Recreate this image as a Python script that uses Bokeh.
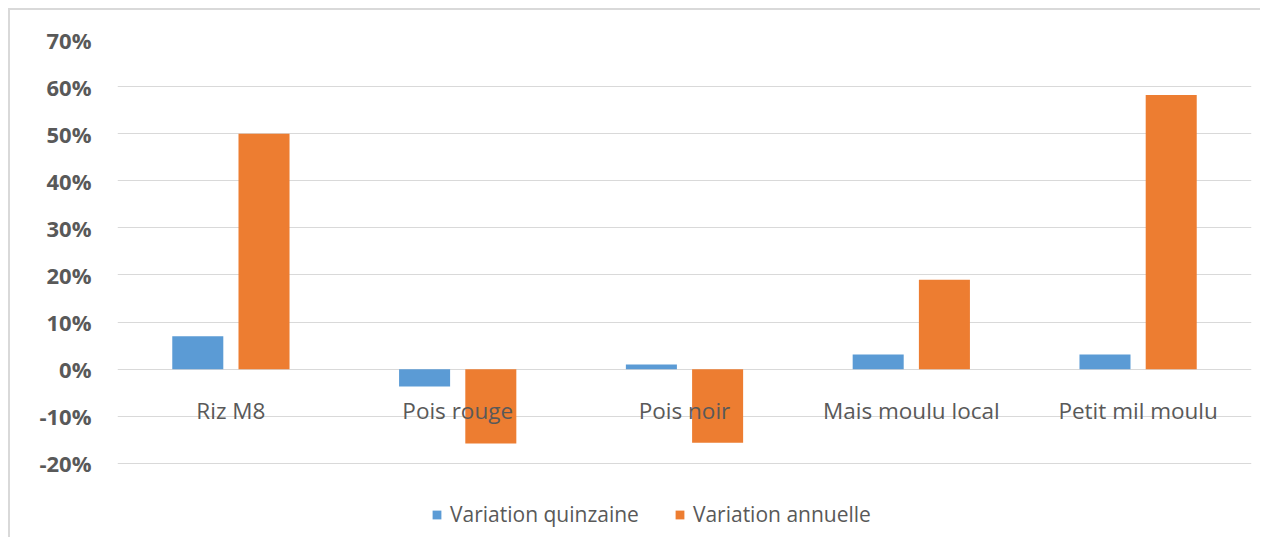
from bokeh.plotting import figure
from bokeh.models import FactorRange, Range1d, FixedTicker, NumeralTickFormatter, Legend, LegendItem, ColumnDataSource
from bokeh.transform import dodge
from bokeh.core.properties import value
from bokeh.embed import file_html
from bokeh.resources import INLINE

categories = ["Riz M8", "Pois rouge", "Pois noir", "Mais moulu local", "Petit mil moulu"]
variation_quinzaine = [0.07, -0.037, 0.01, 0.031, 0.031]
variation_annuelle = [0.50, -0.158, -0.156, 0.19, 0.582]
series_names = ["Variation quinzaine", "Variation annuelle"]
y_ticks = [-0.2, -0.1, 0.0, 0.1, 0.2, 0.3, 0.4, 0.5, 0.6, 0.7]

BLUE = "#5B9BD5"
ORANGE = "#ED7D31"
GRAY = "#595959"
GRID = "#D9D9D9"
FONT = "Open Sans"

src = ColumnDataSource(dict(cat=categories, q=variation_quinzaine, a=variation_annuelle,
                            ly=[-0.088] * len(categories)))

# y range extends below -20% to leave room for the legend inside the frame
p = figure(width=1252, height=529, x_range=FactorRange(*categories), y_range=Range1d(-0.3616, 0.7),
           output_backend="svg", toolbar_location=None, x_axis_location=None,
           min_border_left=107, min_border_right=11, min_border_top=29, min_border_bottom=0)
p.styles = {"border-left": "2px solid #D9D9D9", "border-top": "2px solid #D9D9D9",
            "margin-left": "8px", "margin-top": "8px"}
p.outline_line_color = None
p.background_fill_color = "white"
p.border_fill_color = "white"

p.xgrid.grid_line_color = None
p.ygrid.grid_line_color = GRID
p.ygrid.grid_line_width = 1
p.ygrid.ticker = FixedTicker(ticks=y_ticks)

ya = p.yaxis[0]
ya.ticker = FixedTicker(ticks=y_ticks)
ya.formatter = NumeralTickFormatter(format="0%")
ya.axis_line_color = None
ya.major_tick_line_color = None
ya.minor_tick_line_color = None
ya.major_label_text_font = FONT
ya.major_label_text_font_size = "22px"
ya.major_label_text_font_style = "bold"
ya.major_label_text_color = GRAY
ya.major_label_standoff = 20

r1 = p.vbar(x=dodge("cat", -0.146, range=p.x_range), top="q", bottom=0, width=0.225, source=src,
            fill_color=BLUE, line_color=None)
r2 = p.vbar(x=dodge("cat", 0.146, range=p.x_range), top="a", bottom=0, width=0.225, source=src,
            fill_color=ORANGE, line_color=None)

p.text(x="cat", y="ly", text="cat", source=src, text_font=value(FONT), text_font_size="22.5px",
       text_color=GRAY, text_align="center", text_baseline="middle")

legend = Legend(items=[LegendItem(label=series_names[0], renderers=[r1]),
                       LegendItem(label=series_names[1], renderers=[r2])],
                orientation="horizontal", location=(314, 11))
legend.border_line_color = None
legend.background_fill_alpha = 0
legend.padding = 0
legend.margin = 0
legend.spacing = 35
legend.glyph_width = 11
legend.glyph_height = 11
legend.label_standoff = 8
legend.label_height = 20
legend.label_text_font = FONT
legend.label_text_font_size = "21px"
legend.label_text_color = GRAY
p.add_layout(legend, "center")

open("out.html", "w").write(file_html(p, INLINE))
